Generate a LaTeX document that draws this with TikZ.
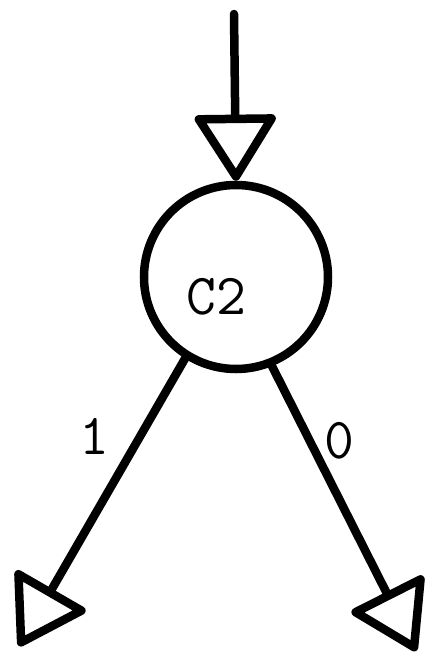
\documentclass[tikz,border=0pt]{standalone}
\usepackage{tikz}
\usetikzlibrary{arrows.meta,positioning}

\begin{document}
\begin{tikzpicture}[x=1pt, y=-1pt,
  cond/.style={circle, draw, line width=8.5pt, minimum size=184pt, inner sep=0pt},
  tag/.style={font=\fontsize{58}{58}\selectfont\ttfamily},
  flow/.style={line width=8.5pt, line cap=round,
    -{Triangle[open, round, length=70pt, width=86pt]}}
]
  \useasboundingbox (0,0) rectangle (425,657);
  \node[cond] (c2) at (236,277) {};
  \node[tag] (c2name) at (216,297) {C2};
  \coordinate (in) at (234,14);
  \coordinate (out1) at (19,646);
  \coordinate (out0) at (416,651);
  \draw[flow] (in) -- (c2.north);
  \draw[flow] (c2.238) -- node[tag, pos=.27, xshift=-46pt]{1} (out1);
  \draw[flow] (c2.292) -- node[tag, pos=.26, xshift=30pt]{0} (out0);
\end{tikzpicture}
\end{document}
